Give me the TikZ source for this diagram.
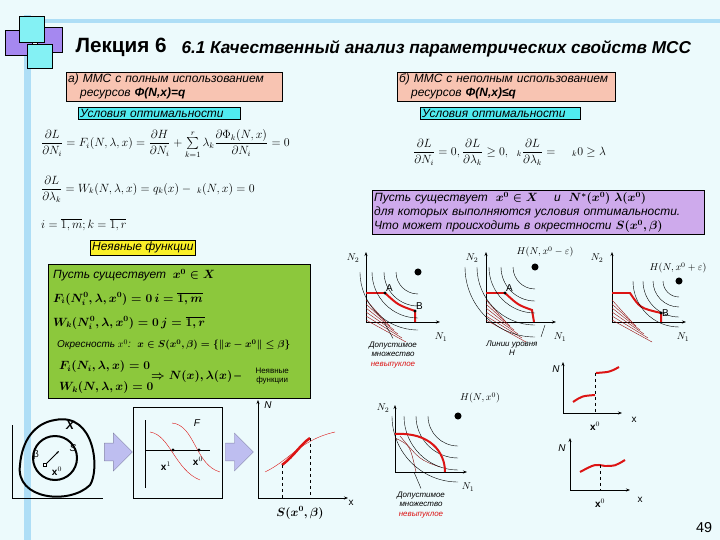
\documentclass[tikz,border=0pt]{standalone}
\usepackage{fontspec}
\setmainfont{Liberation Sans}
\usepackage{amsmath,amssymb}
\usetikzlibrary{shapes.arrows,arrows.meta}
\definecolor{bgc}{RGB}{236,250,252}
\definecolor{pinkc}{RGB}{248,196,178}
\definecolor{cyanc}{RGB}{80,235,240}
\definecolor{purc}{RGB}{206,170,236}
\definecolor{grnc}{RGB}{140,200,60}
\definecolor{yelc}{RGB}{250,240,40}
\definecolor{barc}{RGB}{120,200,240}
\definecolor{redc}{RGB}{220,20,20}
\definecolor{lavc}{RGB}{190,190,240}
\begin{document}
\begin{tikzpicture}[x=1bp,y=-1bp,
 box/.style={draw=black,thin,inner sep=2pt,align=left,font=\itshape\large},
 lbl/.style={inner sep=1pt,font=\itshape},
 eq/.style={inner sep=1pt,font=\large},
 ax/.style={thick,-{Stealth[length=4pt]}},
 rb/.style={redc,line width=2pt},
 dotn/.style={circle,fill=black,inner sep=2.5pt},
 sm/.style={circle,fill=black,inner sep=1.2pt}]
\useasboundingbox (0,0) rectangle (720,540);
\fill[bgc] (0,0) rectangle (720,540);
\fill[barc!60] (24,15) rectangle (31,540);
\fill[barc!60] (40,19) rectangle (720,23);
% logo
\draw[fill=purc!80!blue] (5,30) rectangle (32,55);
\draw[fill=purc!80!blue] (37,27) rectangle (62,52);
\draw[fill=cyanc!70] (19,16) rectangle (44,42);
\draw[fill=cyanc!70] (27,44) rectangle (52,68);
\node[anchor=west,font=\bfseries\huge] (t1) at (72,47) {Лекция 6};
\node[anchor=west,font=\bfseries\itshape\LARGE] (t2) at (178,49) {6.1 Качественный анализ параметрических свойств МСС};
% a)
\node[box,fill=pinkc,anchor=north west,text width=212bp] (ba) at (66,72) {а) ММС с полным использованием\\\quad ресурсов \textbf{Φ(N,x)=q}};
\node[box,fill=cyanc,anchor=north west,text width=158bp] (ca) at (78,107) {Условия оптимальности};
\node[eq,anchor=west] (e1) at (40,144) {$\dfrac{\partial L}{\partial N_i}=F_i(N,\lambda,x)=\dfrac{\partial H}{\partial N_i}+\sum\limits_{k=1}^{r}\lambda_k\dfrac{\partial\Phi_k(N,x)}{\partial N_i}=0$};
\node[eq,anchor=west] (e2) at (40,189) {$\dfrac{\partial L}{\partial\lambda_k}=W_k(N,\lambda,x)=q_k(x)-\ _k(N,x)=0$};
\node[eq,anchor=west] (e3) at (40,225) {$i=\overline{1,m};k=\overline{1,r}$};
% b)
\node[box,fill=pinkc,anchor=north west,text width=214bp] (bb) at (397,72) {б) ММС с неполным использованием\\\quad ресурсов \textbf{Φ(N,x)≤q}};
\node[box,fill=cyanc,anchor=north west,text width=156bp] (cb) at (420,107) {Условия оптимальности};
\node[eq,anchor=west] (e4) at (412,152) {$\dfrac{\partial L}{\partial N_i}=0,\dfrac{\partial L}{\partial\lambda_k}\ge0,\ \ _k\dfrac{\partial L}{\partial\lambda_k}=\ \ \ \ _k0\geq\lambda$};
\node[box,fill=purc,anchor=north west,text width=328bp] (pb) at (372,190) {Пусть существует \ $\boldsymbol{x^0\in X}$ \quad и \ $\boldsymbol{N^*(x^0)\ \lambda(x^0)}$\\для которых выполняются условия оптимальности.\\Что может происходить в окрестности $\boldsymbol{S(x^0,\beta)}$};
% implicit
\node[box,fill=yelc,anchor=north west] (yb) at (90,240) {Неявные функции};
\node[box,fill=grnc,anchor=north west,text width=258bp,minimum height=134bp] (gb) at (48,264) {};
\node[lbl,anchor=west,font=\itshape\large] (g1) at (52,275) {Пусть существует \ $\boldsymbol{x^0\in X}$};
\node[eq,anchor=west] (g2) at (52,299) {$\boldsymbol{F_i(N_i^0,\lambda,x^0)=0\,i=\overline{1,m}}$};
\node[eq,anchor=west] (g3) at (52,323) {$\boldsymbol{W_k(N_i^0,\lambda,x^0)=0\,j=\overline{1,r}}$};
\node[lbl,anchor=west] (g4) at (56,345) {Окресность $x^0$: \ $\boldsymbol{x\in S(x^0,\beta)=\{\|x-x^0\|\le\beta\}}$};
\node[eq,anchor=west] (g5) at (58,367) {$\boldsymbol{F_i(N_i,\lambda,x)=0}$};
\node[eq,anchor=west] (g6) at (58,388) {$\boldsymbol{W_k(N,\lambda,x)=0}$};
\node[eq,anchor=west] (g7) at (150,377) {$\boldsymbol{\Rightarrow N(x),\lambda(x)}$\,--};
\node[anchor=west,font=\footnotesize,align=center] (g8) at (252,376) {Неявные\\функции};
% graph1
\coordinate (o1) at (366,322);
\draw[ax] (o1) -- (366,252); \draw[ax] (o1) -- (440,322);
\foreach \s in {0,8,...,40} \draw[redc!70!black,thin] (366,{300+\s*0.5}) -- ++(\s*0.5+20,22);
\draw[rb] (366,293) -- (385,293) .. controls (398,305) .. (415,311) -- (415,322);
\foreach \r in {22,34,46,58} \draw (418,272) ++(-\r,0) arc (180:90:\r);
\node[dotn] (d1) at (418,272) {};
\node[sm] (A1) at (385,293) {}; \node[sm] (B1) at (415,311) {};
\node[anchor=south west,inner sep=1pt] at (A1) {A}; \node[anchor=south west,inner sep=1pt] at (B1) {B};
\node[lbl] (n21) at (353,258) {$N_2$}; \node[lbl] (n11) at (441,337) {$N_1$};
\node[font=\footnotesize\itshape,align=center] (tx1) at (393,355) {Допустимое\\множество\\\textcolor{redc}{невыпуклое}};
\draw (tx1.north) -- (384,322);
% graph2
\draw[ax] (486,322) -- (486,252); \draw[ax] (486,322) -- (556,322);
\foreach \s in {0,8,...,40} \draw[redc!70!black,thin] (486,{300+\s*0.5}) -- ++(\s*0.5+20,22);
\draw[rb] (486,293) -- (505,293) .. controls (518,305) .. (532,310) -- (534,322);
\foreach \r in {22,34,46,58,70} \draw (535,267) ++(-\r,0) arc (180:90:\r);
\node[dotn] (d2) at (535,267) {};
\node[sm] (A2) at (505,293) {};
\node[anchor=south west,inner sep=1pt] at (A2) {A};
\node[lbl] (n22) at (472,258) {$N_2$}; \node[lbl] (n12) at (560,337) {$N_1$};
\node[lbl] (h2) at (545,252) {$H(N,x^0-\varepsilon)$};
\node[font=\footnotesize\itshape,align=center] (tx2) at (512,348) {Линии уровня\\H};
\draw (tx2.north east) -- (545,325);
% graph3
\draw[ax] (612,322) -- (612,252); \draw[ax] (612,322) -- (686,322);
\foreach \s in {0,8,...,40} \draw[redc!70!black,thin] (612,{300+\s*0.5}) -- ++(\s*0.5+20,22);
\draw[rb] (612,293) -- (630,293) .. controls (640,308) .. (661,313) -- (661,322);
\foreach \r in {16,26,36,46} \draw (679,281) ++(-\r,0) arc (180:90:\r);
\node[dotn] (d3) at (679,281) {};
\node[sm] (B3) at (661,313) {};
\node[anchor=west,inner sep=1pt] at (B3) {B};
\node[lbl] (n23) at (597,258) {$N_2$}; \node[lbl] (n13) at (683,337) {$N_1$};
\node[lbl] (h3) at (678,268) {$H(N,x^0+\varepsilon)$};
% graph4
\draw[ax] (395,472) -- (395,405); \draw[ax] (395,472) -- (467,472);
\draw[redc!60!black] (395,438) .. controls (410,445) .. (416,472);
\draw[redc!60!black] (400,436) .. controls (420,460) .. (440,467);
\foreach \r in {30,42,54,66} \draw (458,416) ++(-\r,0) arc (180:90:\r);
\draw[rb] (395,434) .. controls (430,432) and (445,452) .. (445,472);
\node[dotn] (d4) at (458,416) {};
\node[lbl] (n24) at (383,408) {$N_2$}; \node[lbl] (n14) at (468,487) {$N_1$};
\node[lbl] (h4) at (480,398) {$H(N,x^0)$};
\node[font=\footnotesize\itshape,align=center] (tx4) at (421,505) {Допустимое\\множество\\\textcolor{redc}{невыпуклое}};
\draw (tx4.north) -- (414,472);
% small graph A
\draw[ax] (563,413) -- (563,362); \draw[ax] (563,413) -- (622,413);
\draw[rb] (573,402) .. controls (582,396) .. (595,395);
\draw[rb] (596,373) .. controls (610,372) .. (619,367);
\draw[dashed] (595,373) -- (595,413);
\node[lbl] (na) at (556,369) {N}; \node (xa0) at (595,426) {$\mathbf{x}^0$}; \node (xa) at (634,420) {x};
% small graph B
\draw[ax] (570,490) -- (570,438); \draw[ax] (570,490) -- (630,490);
\draw[rb] (580,472) .. controls (595,464) .. (605,466) .. controls (615,466) .. (625,460);
\draw[dashed] (600,465) -- (600,490);
\node[lbl] (nb) at (562,448) {N}; \node (xb0) at (600,503) {$\mathbf{x}^0$}; \node (xb) at (640,500) {x};
\node[font=\Large] (pg) at (704,528) {49};
% bottom left
\draw (12,425) -- (12,498) -- (103,498);
\draw[line width=2pt] (55,420) .. controls (95,412) and (100,470) .. (90,485) .. controls (70,505) and (15,500) .. (20,465) .. controls (22,440) and (35,423) .. (55,420);
\draw[line width=2pt] (55,458) circle (22);
\node[draw,inner sep=1.5pt,fill=white] (x0s) at (45,465) {};
\draw[thick,-{Stealth[length=3pt]}] (x0s) -- (59,451);
\node[font=\bfseries\itshape\large] (XX) at (70,425) {X};
\node[lbl] (SS) at (73,448) {S};
\node (bb1) at (36,455) {β};
\node (x0l) at (57,471) {$\mathbf{x}^0$};
\node[single arrow,draw=lavc!70!black,fill=lavc,minimum height=28bp,minimum width=38bp,single arrow head extend=4bp] (ar1) at (114,452) {};
\node[draw,thick,minimum width=89bp,minimum height=91bp,anchor=north west] (fb) at (133,407) {};
\draw (145,420) -- (145,488); \draw (145,450) -- (210,450);
\draw[redc] (150,432) .. controls (170,435) and (175,470) .. (200,480);
\draw[redc] (172,423) .. controls (195,425) and (195,465) .. (220,472);
\node[sm] (p1) at (173,450) {}; \node[sm] (p0) at (199,450) {};
\node (x1l) at (166,466) {$\mathbf{x}^1$}; \node (x0b) at (198,461) {$\mathbf{x}^0$};
\node[lbl] (FF) at (197,423) {F};
\node[single arrow,draw=lavc!70!black,fill=lavc,minimum height=28bp,minimum width=38bp,single arrow head extend=4bp] (ar2) at (235,452) {};
\draw[ax] (258,498) -- (258,400); \draw[ax] (258,498) -- (348,498);
\draw[redc] (265,472) .. controls (290,460) and (300,440) .. (335,432);
\draw[redc,line width=2.5pt] (282,465) .. controls (295,455) and (300,445) .. (310,438);
\draw[dashed] (282,465) -- (282,498); \draw[dashed] (310,438) -- (310,498);
\node[lbl] (nN) at (268,405) {N}; \node (xl) at (351,503) {x};
\node[eq] (sxb) at (300,513) {$\boldsymbol{S(x^0,\beta)}$};
\end{tikzpicture}
\end{document}
